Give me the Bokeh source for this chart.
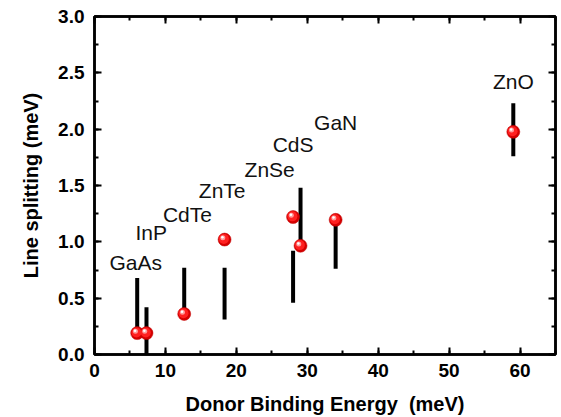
from bokeh.plotting import figure
from bokeh.models import (Range1d, LinearAxis, SingleIntervalTicker, NumeralTickFormatter,
                          ColumnDataSource, CustomJSTickFormatter)
from bokeh.transform import dodge
from bokeh.core.properties import value
from bokeh.embed import file_html
from bokeh.resources import INLINE

# ---- data ----
materials = ["GaAs", "InP", "CdTe", "ZnTe", "ZnSe", "CdS", "GaN", "ZnO"]
label_x = [5.8, 8.0, 13.1, 18.0, 24.7, 28.0, 34.0, 59.05]
label_y = [0.82, 1.08, 1.24, 1.46, 1.64, 1.86, 2.06, 2.42]

point_x = [6.02, 7.33, 12.65, 18.34, 28.0, 29.05, 34.0, 59.05]
point_y = [0.19, 0.19, 0.36, 1.02, 1.22, 0.965, 1.195, 1.976]

bar_x = [6.02, 7.33, 12.65, 18.34, 28.0, 29.05, 34.0, 59.05]
bar_low = [0.19, 0.0, 0.36, 0.31, 0.46, 0.97, 0.76, 1.76]
bar_high = [0.68, 0.42, 0.77, 0.77, 0.92, 1.48, 1.20, 2.23]

x_ticks_interval = 10
y_ticks_interval = 0.5

FONT = "Liberation Sans"

p = figure(width=561, height=417, output_backend="svg", toolbar_location=None,
           x_range=Range1d(0, 65), y_range=Range1d(0, 3),
           min_border_left=94, min_border_right=6, min_border_top=16, min_border_bottom=62)
p.grid.visible = False
p.outline_line_color = "black"
p.outline_line_width = 2.5
p.background_fill_color = "white"
p.border_fill_color = "white"

def style_axis(ax, labels=True):
    ax.axis_line_width = 2.5
    ax.major_tick_line_width = 2
    ax.minor_tick_line_width = 2
    ax.major_tick_in = 7
    ax.major_tick_out = 0
    ax.minor_tick_in = 4
    ax.minor_tick_out = 0
    if labels:
        ax.major_label_text_font = FONT
        ax.major_label_text_font_style = "bold"
        ax.major_label_text_font_size = "19px"
        ax.major_label_text_color = "black"
        ax.axis_label_text_font = FONT
        ax.axis_label_text_font_style = "bold"
        ax.axis_label_text_font_size = "20px"
        ax.axis_label_text_color = "black"
    else:
        ax.formatter = CustomJSTickFormatter(code="return ''")
        ax.major_label_text_font_size = "1px"
        ax.major_label_standoff = 0
        ax.axis_label = None

xt = SingleIntervalTicker(interval=x_ticks_interval, num_minor_ticks=2)
yt = SingleIntervalTicker(interval=y_ticks_interval, num_minor_ticks=2)

p.xaxis.ticker = xt
p.yaxis.ticker = yt
p.yaxis.formatter = NumeralTickFormatter(format="0.0")
p.xaxis.axis_label = "Donor Binding Energy\u00a0 (meV)"
p.yaxis.axis_label = "Line splitting (meV)"
style_axis(p.xaxis[0])
style_axis(p.yaxis[0])
p.xaxis.major_label_standoff = 9
p.xaxis.axis_label_standoff = 13
p.yaxis.major_label_standoff = 10
p.yaxis.axis_label_standoff = 13

top = LinearAxis(ticker=SingleIntervalTicker(interval=x_ticks_interval, num_minor_ticks=2))
right = LinearAxis(ticker=SingleIntervalTicker(interval=y_ticks_interval, num_minor_ticks=2))
style_axis(top, labels=False)
style_axis(right, labels=False)
p.add_layout(top, "above")
p.add_layout(right, "right")

# bars
bars = ColumnDataSource(dict(x=bar_x, lo=bar_low, hi=bar_high))
p.segment(x0="x", y0="lo", x1="x", y1="hi", source=bars, line_color="black",
          line_width=4, line_cap="butt")

# spheres
pts = ColumnDataSource(dict(x=point_x, y=point_y))
p.scatter("x", "y", source=pts, size=13, fill_color="#d40000", line_color="#c00000", line_width=0.5)
p.scatter(dodge("x", -0.1, range=p.x_range), dodge("y", 0.006, range=p.y_range), source=pts,
          size=10, fill_color="#ff2020", line_color=None)
p.scatter(dodge("x", -0.25, range=p.x_range), dodge("y", 0.016, range=p.y_range), source=pts,
          size=5, fill_color="#ff9a9a", line_color=None)
p.scatter(dodge("x", -0.3, range=p.x_range), dodge("y", 0.02, range=p.y_range), source=pts,
          size=2.5, fill_color="#ffffff", line_color=None)

# labels
labs = ColumnDataSource(dict(x=label_x, y=label_y, t=materials))
p.text("x", "y", text="t", source=labs, text_font=value(FONT), text_font_size="21px",
       text_align="center", text_baseline="middle", text_color="#111111")

open("out.html", "w").write(file_html(p, INLINE))
